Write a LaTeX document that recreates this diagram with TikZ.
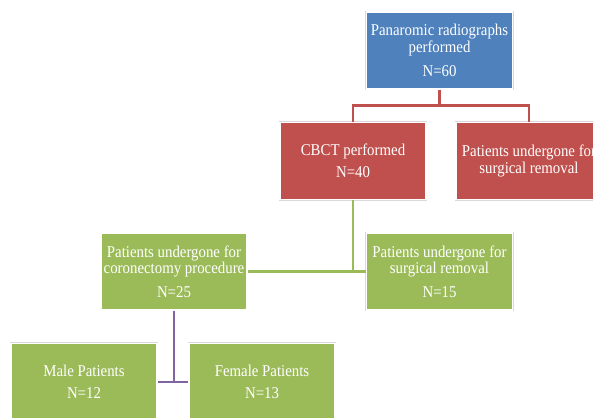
\documentclass[tikz,border=0pt]{standalone}
\usepackage{fontspec}
\setmainfont{Liberation Serif}[FakeStretch=0.9]
\usetikzlibrary{positioning}
\definecolor{colorAzul}{HTML}{4F81BD}
\definecolor{colorRojo}{HTML}{C0504D}
\definecolor{colorVerde}{HTML}{9BBB59}
\definecolor{colorMorado}{HTML}{8064A2}
\begin{document}
\begin{tikzpicture}[
        x=1pt, y=-1pt,
        bx/.style={preaction={draw=gray!30, line width=2.6pt}, draw=white, line width=1.2pt,
            text=white, align=center, inner sep=0pt, minimum width=146pt, minimum height=77pt,
            font=\rmfamily\fontsize{16.5}{16.5}\selectfont},
        azul/.style={bx, fill=colorAzul},
        rojo/.style={bx, fill=colorRojo},
        verde/.style={bx, fill=colorVerde},
        ln/.style={line width=2.5pt},
        lnr/.style={ln, colorRojo},
        lnv/.style={ln, colorVerde},
        lnm/.style={ln, colorMorado}
    ]
        \clip (0,0) rectangle (593,417);
        \useasboundingbox (0,0) rectangle (593,417);
        % nodes
        \node[azul] (pan) at (439.5,50.5) {Panaromic radiographs\\performed\\[8pt]N=60};
        \node[rojo] (cbct) at (353,161) {CBCT performed\\[6pt]N=40};
        \node[rojo] (qx) at (529,161) {Patients undergone for\\surgical removal};
        \node[verde] (coro) at (174,271.5) {Patients undergone for\\coronectomy procedure\\[7pt]N=25};
        \node[verde] (qx2) at (439.5,271.5) {Patients undergone for\\surgical removal\\[7pt]N=15};
        \node[verde] (male) at (84,382) {Male Patients\\[6pt]N=12};
        \node[verde] (fem) at (262,382) {Female Patients\\[6pt]N=13};
        % connectors
        \draw[lnr] (pan.south) -- ++(0,16) -| (cbct.north);
        \draw[lnr] (pan.south) -- ++(0,16) -| (qx.north);
        \draw[lnv] (cbct.south) |- (coro.east);
        \draw[lnv] (cbct.south) |- (qx2.west);
        \draw[lnm] (coro.south) |- (male.east);
        \draw[lnm] (coro.south) |- (fem.west);
    \end{tikzpicture}
\end{document}
